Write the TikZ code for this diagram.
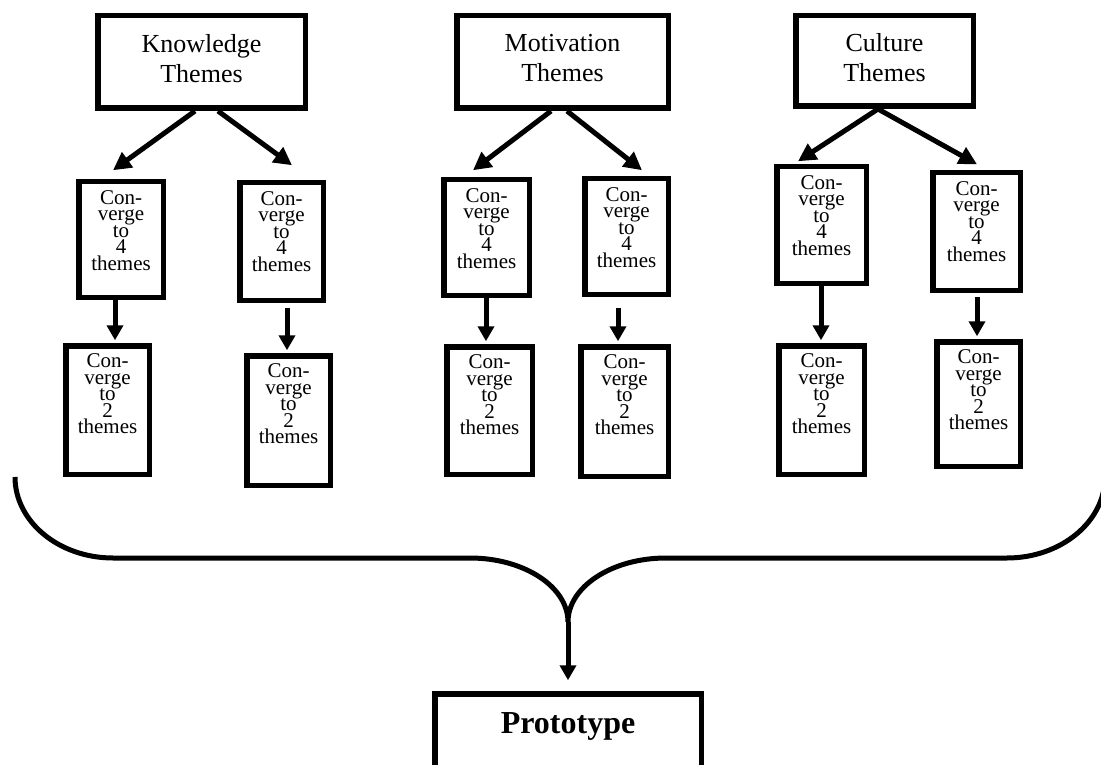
\documentclass[tikz,border=0pt]{standalone}
\usepackage{fontspec}
\setmainfont{Liberation Serif}
\usetikzlibrary{arrows.meta,calc}
\tikzset{
  bx/.style={draw, line width=5.5pt, rectangle, inner sep=0pt},
  topbox/.style={bx, align=center, font=\fontsize{26}{30}\selectfont, text depth=8pt},
  txt/.style={align=center, inner sep=0pt, anchor=north, font=\fontsize{21}{16.5}\selectfont},
  arr/.style={line width=5pt, -{Triangle[length=15pt, width=16pt]}},
  darr/.style={line width=5pt, -{Triangle[length=18pt, width=18pt]}},
  brace/.style={line width=5pt}
}
\begin{document}
\begin{tikzpicture}[x=1pt,y=-1pt]
\useasboundingbox (0,0) rectangle (1101,765);
% top boxes
\node[topbox, minimum width=207.5pt, minimum height=92.5pt] (K) at (201.5,62) {Knowledge\\Themes};
\node[topbox, minimum width=211.5pt, minimum height=92.5pt] (M) at (562.5,62) {Motivation\\Themes};
\node[topbox, minimum width=177.5pt, minimum height=90.5pt] (C) at (884.5,61) {Culture\\Themes};
% level 2
\node[bx, minimum width=84.5pt, minimum height=115.5pt] (K1) at (121,239.5) {};
\node[bx, minimum width=83.5pt, minimum height=117.5pt] (K2) at (281.5,241.5) {};
\node[bx, minimum width=85.5pt, minimum height=115.5pt] (M1) at (486.5,237.5) {};
\node[bx, minimum width=83.5pt, minimum height=115.5pt] (M2) at (626.5,236.5) {};
\node[bx, minimum width=89.5pt, minimum height=116.5pt] (C1) at (821.5,225) {};
\node[bx, minimum width=87.5pt, minimum height=117.5pt] (C2) at (976.5,231.5) {};
% level 3
\node[bx, minimum width=83.5pt, minimum height=128.5pt] (K1b) at (107.5,410) {};
\node[bx, minimum width=83.5pt, minimum height=129.5pt] (K2b) at (288.5,420.5) {};
\node[bx, minimum width=85.5pt, minimum height=127.5pt] (M1b) at (489.5,410.5) {};
\node[bx, minimum width=87.5pt, minimum height=129.5pt] (M2b) at (624.5,411.5) {};
\node[bx, minimum width=85.5pt, minimum height=128.5pt] (C1b) at (821.5,410) {};
\node[bx, minimum width=83.5pt, minimum height=124.5pt] (C2b) at (978.5,404) {};
% texts
\foreach \n in {K1,K2,M1,M2,C1,C2}{
  \node[txt] (\n t) at ($(\n.north)+(0,11)$) {Con-\\verge\\to\\4\\themes};
}
\foreach \n in {K1b,K2b,M1b,M2b,C1b,C2b}{
  \node[txt] (\n t) at ($(\n.north)+(0,10.5)$) {Con-\\verge\\to\\2\\themes};
}
% prototype
\node[bx, minimum width=266.5pt, minimum height=78.5pt, text height=10pt, text depth=10pt,
      font=\bfseries\fontsize{32}{36}\selectfont] (P) at (568,733) {Prototype};
% arrows top -> level 2
\draw[darr] ($(K.south)+(-6.5,0)$) -- ($(K1.north)+(-8,-8.75)$);
\draw[darr] ($(K.south)+(16.5,0)$) -- ($(K2.north)+(10.5,-14.75)$);
\draw[darr] ($(M.south)+(-11.5,0)$) -- ($(M1.north)+(-13.5,-6.75)$);
\draw[darr] ($(M.south)+(4.5,0)$) -- ($(M2.north)+(15.5,-5.75)$);
\draw[darr] ($(C.south)+(-6.5,0)$) -- ($(C1.north)+(-23.5,-2.75)$);
\draw[darr] ($(C.south)+(-6.5,0)$) -- ($(C2.north)+(0.5,-5.75)$);
% arrows level 2 -> level 3
\draw[arr] ($(K1.south)+(-6,0)$) -- ($(K1b.north)+(7.5,-2.75)$);
\draw[arr] ($(K2.south)+(5.5,4.75)$) -- ($(K2b.north)+(-1.5,-2.75)$);
\draw[arr] ($(M1.south)+(-0.5,0)$) -- ($(M1b.north)+(-3.5,-2.75)$);
\draw[arr] ($(M2.south)+(-8.5,10.75)$) -- ($(M2b.north)+(-6.5,-2.75)$);
\draw[arr] ($(C1.south)+(-0.5,0)$) -- ($(C1b.north)+(-0.5,-2.75)$);
\draw[arr] ($(C2.south)+(0.5,4.25)$) -- ($(C2b.north)+(-1.5,-2.75)$);
% brace
\coordinate (bl) at (15,477);
\coordinate (br) at (1105,477);
\coordinate (cusp) at (568,622);
\draw[brace] (bl) .. controls (15,521.7) and (58.9,558) .. (113,558)
  -- (470,558) .. controls (524,558) and (568,586.7) .. (cusp)
  .. controls (568,586.7) and (612,558) .. (666,558)
  -- (1007,558) .. controls (1061,558) and (1105,521.7) .. (br);
\draw[arr] (cusp) -- ($(P.north)+(0,-10.75)$);
\end{tikzpicture}
\end{document}
